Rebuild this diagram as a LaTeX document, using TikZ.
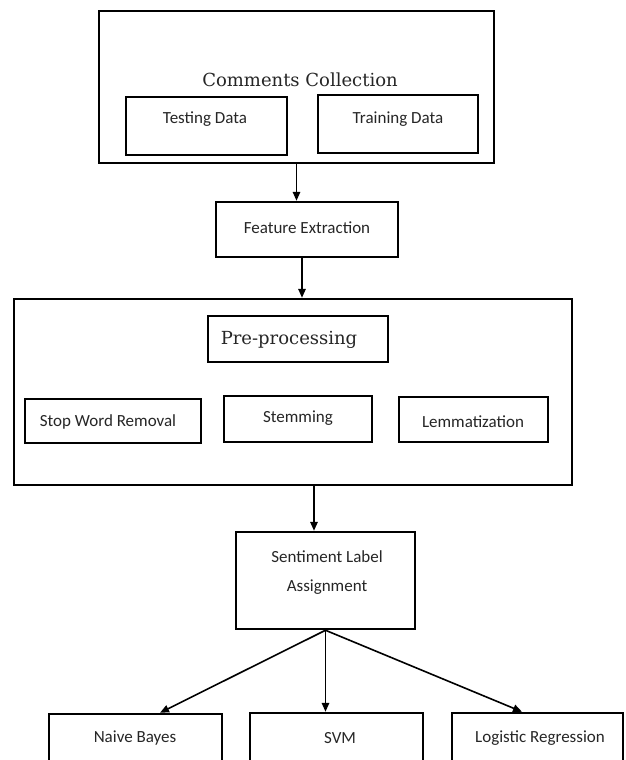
\documentclass[tikz,border=0pt]{standalone}
\usepackage{fontspec}
\setmainfont{Carlito}
\newfontfamily\titlefont{DejaVu Serif}
\usetikzlibrary{arrows.meta}
\begin{document}
\begin{tikzpicture}[x=1pt,y=-1pt,
  box/.style={draw, line width=2.5pt, inner sep=0pt},
  lbl/.style={inner sep=0pt, text=black!85, font=\fontsize{17}{29}\selectfont, align=center},
  ttl/.style={inner sep=0pt, text=black!85, font=\titlefont\fontsize{18}{22}\selectfont},
  arr/.style={line width=1.6pt, -{Triangle[length=9pt,width=7.5pt]}}]
\useasboundingbox (0,0) rectangle (625,760);
\fill[white] (0,0) rectangle (625,760);
\clip (0,0) rectangle (625,760);
% Comments collection
\node[box, minimum width=395pt, minimum height=152pt] (cc) at (296.5,87) {};
\node[ttl] (cct) at (300,80) {Comments Collection};
\node[box, minimum width=161pt, minimum height=58pt] (test) at (206.5,126) {};
\node[lbl] (testt) at (205,119) {Testing Data};
\node[box, minimum width=160pt, minimum height=58pt] (train) at (398,124) {};
\node[lbl] (traint) at (398,119) {Training Data};
% Feature extraction
\node[box, minimum width=182pt, minimum height=55pt] (fe) at (307,229.5) {};
\node[lbl] (fet) at (307,228) {Feature Extraction};
% Pre-processing
\node[box, minimum width=558pt, minimum height=186pt] (pp) at (293,392) {};
\node[box, minimum width=180pt, minimum height=46pt] (pre) at (298,339) {};
\node[ttl] (pret) at (289,340) {Pre-processing};
\node[box, minimum width=176pt, minimum height=44pt] (swr) at (113,421) {};
\node[lbl] (swrt) at (108,422) {Stop Word Removal};
\node[box, minimum width=148pt, minimum height=46pt] (stem) at (298,419) {};
\node[lbl] (stemt) at (298,418) {Stemming};
\node[box, minimum width=149pt, minimum height=45pt] (lem) at (473.5,419.5) {};
\node[lbl] (lemt) at (473,422) {Lemmatization};
% Sentiment label assignment
\node[box, minimum width=179pt, minimum height=97pt] (sla) at (325.5,580.5) {};
\node[lbl] (slat) at (327,573) {Sentiment Label\\Assignment};
% Classifiers
\node[box, minimum width=173pt, minimum height=61pt] (nb) at (135.5,744.5) {};
\node[lbl] (nbt) at (135,738) {Naive Bayes};
\node[box, minimum width=173pt, minimum height=62pt] (svm) at (336.5,744) {};
\node[lbl] (svmt) at (340,738) {SVM};
\node[box, minimum width=171pt, minimum height=62pt] (lr) at (537.5,744) {};
\node[lbl] (lrt) at (540,738) {Logistic Regression};
% connectors
\coordinate (febot) at ([xshift=-5pt]fe.south);
\coordinate (slatop) at ([xshift=-11.5pt]sla.north);
\coordinate (nbtip) at ([xshift=24.5pt]nb.north);
\coordinate (lrtip) at ([xshift=-15.5pt]lr.north);
\draw[arr] (cc.south) -- (cc.south |- fe.north);
\draw[arr] (febot) -- (febot |- pp.north);
\draw[arr] (slatop |- pp.south) -- (slatop);
\draw[arr] (sla.south) -- (nbtip);
\draw[arr] (sla.south) -- (sla.south |- svm.north);
\draw[arr] (sla.south) -- (lrtip);
\end{tikzpicture}
\end{document}
